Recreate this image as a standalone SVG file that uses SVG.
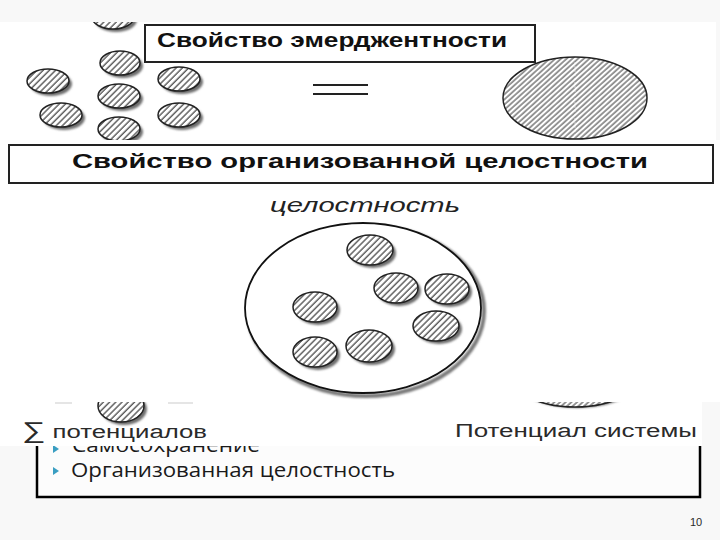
<svg xmlns="http://www.w3.org/2000/svg" width="720" height="540" viewBox="0 0 720 540">
<style>
.sc{stroke:#222;stroke-width:1.5;fill:url(#hatch)}
.shd{fill:#6e6e6e;filter:url(#blur)}
.bx{fill:#fff;stroke:#222;stroke-width:2}
.tb{font-family:"Liberation Sans",Arial,sans-serif;font-weight:bold;fill:#111}
.lb{font-family:"Liberation Sans",Arial,sans-serif;fill:#2a2a2a}
.li{font-family:"Open Sans","Noto Sans",sans-serif;fill:#1a1a1a}
.bul{fill:#3a9ec2}
</style>
<defs>
<pattern id="hatch" patternUnits="userSpaceOnUse" width="4.4" height="4.4" patternTransform="rotate(45)">
<rect width="4.4" height="4.4" fill="#fff"/>
<line x1="1" y1="0" x2="1" y2="4.4" stroke="#3a3a3a" stroke-width="1.2"/>
</pattern>
<pattern id="hatchBig" patternUnits="userSpaceOnUse" width="3.8" height="3.8" patternTransform="rotate(48)">
<rect width="3.8" height="3.8" fill="#fff"/>
<line x1="1" y1="0" x2="1" y2="3.8" stroke="#444" stroke-width="1.1"/>
</pattern>
<filter id="blur" x="-20%" y="-20%" width="140%" height="140%"><feGaussianBlur stdDeviation="1.3"/></filter>
<clipPath id="clipTop"><rect x="0" y="22" width="716" height="123"/></clipPath>
<clipPath id="clipBot"><rect x="0" y="380" width="702" height="66"/></clipPath>
</defs>

<!-- slide background -->
<rect x="0" y="0" width="720" height="540" fill="#f8f8f8"/>

<!-- bulleted list box -->
<g id="list">
<path d="M37,400 V497 H700 V400" fill="#fcfcfc" stroke="#000" stroke-width="2.5"/>
<polygon class="bul" points="53,445 59,449 53,453"/>
<text class="li" x="72" y="452" font-size="20" textLength="188" lengthAdjust="spacingAndGlyphs">Самосохранение</text>
<polygon class="bul" points="53,467 59,471 53,475"/>
<text class="li" x="71" y="477" font-size="20" textLength="324" lengthAdjust="spacingAndGlyphs">Организованная целостность</text>
</g>
<text id="pagenum" class="lb" x="690" y="526" font-size="11">10</text>

<!-- bottom image fragment -->
<g id="bottom" clip-path="url(#clipBot)">
<rect x="0" y="380" width="702" height="66" fill="#fff"/>
<line x1="55" y1="403" x2="72" y2="403" stroke="#ddd" stroke-width="1.5"/>
<line x1="168" y1="403" x2="193" y2="403" stroke="#ddd" stroke-width="1.5"/>
<g id="sumCircle">
<ellipse class="shd" cx="124" cy="409" rx="23" ry="16"/>
<ellipse class="sc" cx="121" cy="406" rx="23" ry="16"/>
</g>
<g id="sysEllipseBottom">
<ellipse class="shd" cx="577" cy="368" rx="72" ry="40"/>
<ellipse cx="575" cy="366" rx="72" ry="41" fill="url(#hatchBig)" stroke="#222" stroke-width="1.5"/>
</g>
<text id="sumLabel" class="lb" x="22" y="438" font-size="18" textLength="185" lengthAdjust="spacingAndGlyphs"><tspan font-size="23">∑</tspan> потенциалов</text>
<text id="sysLabel" class="lb" x="455" y="437" font-size="18" textLength="242" lengthAdjust="spacingAndGlyphs">Потенциал системы</text>
</g>

<!-- top image fragment: emergence -->
<g id="top" clip-path="url(#clipTop)">
<rect x="0" y="22" width="716" height="123" fill="#fff"/>
<g id="c0"><ellipse class="shd" cx="116" cy="20" rx="21" ry="12"/><ellipse class="sc" cx="113" cy="17" rx="21" ry="12"/></g>
<g id="c1"><ellipse class="shd" cx="123" cy="66" rx="20" ry="12"/><ellipse class="sc" cx="120" cy="63" rx="20" ry="12"/></g>
<g id="c2"><ellipse class="shd" cx="51" cy="84" rx="21" ry="12"/><ellipse class="sc" cx="48" cy="81" rx="21" ry="12"/></g>
<g id="c3"><ellipse class="shd" cx="182" cy="82" rx="21" ry="12"/><ellipse class="sc" cx="179" cy="79" rx="21" ry="12"/></g>
<g id="c4"><ellipse class="shd" cx="122" cy="99" rx="21" ry="12"/><ellipse class="sc" cx="119" cy="96" rx="21" ry="12"/></g>
<g id="c5"><ellipse class="shd" cx="64" cy="118" rx="21" ry="12"/><ellipse class="sc" cx="61" cy="115" rx="21" ry="12"/></g>
<g id="c6"><ellipse class="shd" cx="182" cy="118" rx="21" ry="12"/><ellipse class="sc" cx="179" cy="115" rx="21" ry="12"/></g>
<g id="c7"><ellipse class="shd" cx="122" cy="132" rx="21" ry="12"/><ellipse class="sc" cx="119" cy="129" rx="21" ry="12"/></g>
<g id="emergBox">
<rect class="bx" x="145" y="25" width="390" height="37"/>
<text class="tb" x="157" y="47" font-size="20" textLength="350" lengthAdjust="spacingAndGlyphs">Свойство эмерджентности</text>
</g>
<g id="equals">
<line x1="313" y1="85" x2="368" y2="85" stroke="#222" stroke-width="1.8"/>
<line x1="313" y1="94" x2="368" y2="94" stroke="#222" stroke-width="1.8"/>
</g>
<g id="bigEllipse">
<ellipse cx="575" cy="98" rx="72" ry="41" fill="url(#hatchBig)" stroke="#222" stroke-width="1.5"/>
<line x1="575" y1="58" x2="575" y2="138" stroke="#fff" stroke-width="0.8" stroke-dasharray="2 2" opacity="0.7"/>
</g>
</g>

<!-- middle image fragment: organized integrity -->
<g id="middle">
<rect x="0" y="140" width="720" height="262" fill="#fff"/>
<g id="orgBox">
<rect class="bx" x="9" y="145" width="704" height="38"/>
<text class="tb" x="72" y="168" font-size="21" textLength="576" lengthAdjust="spacingAndGlyphs">Свойство организованной целостности</text>
</g>
<text id="wholeLabel" x="270" y="212" font-size="21" font-style="italic" textLength="190" lengthAdjust="spacingAndGlyphs" font-family="'Liberation Sans',Arial,sans-serif" fill="#222">целостность</text>
<g id="wholeCircle">
<ellipse cx="366" cy="311" rx="118" ry="85" fill="none" stroke="#777" stroke-width="4" filter="url(#blur)"/>
<ellipse cx="363" cy="308" rx="118" ry="85" fill="#fff" stroke="#111" stroke-width="1.8"/>
</g>
<g id="m1"><ellipse class="shd" cx="373" cy="253" rx="23" ry="15"/><ellipse class="sc" cx="370" cy="250" rx="23" ry="15"/></g>
<g id="m2"><ellipse class="shd" cx="399" cy="291" rx="22" ry="15"/><ellipse class="sc" cx="396" cy="288" rx="22" ry="15"/></g>
<g id="m3"><ellipse class="shd" cx="450" cy="292" rx="22" ry="15"/><ellipse class="sc" cx="447" cy="289" rx="22" ry="15"/></g>
<g id="m4"><ellipse class="shd" cx="318" cy="310" rx="22" ry="15"/><ellipse class="sc" cx="315" cy="307" rx="22" ry="15"/></g>
<g id="m5"><ellipse class="shd" cx="439" cy="329" rx="23" ry="15"/><ellipse class="sc" cx="436" cy="326" rx="23" ry="15"/></g>
<g id="m6"><ellipse class="shd" cx="318" cy="355" rx="22" ry="15"/><ellipse class="sc" cx="315" cy="352" rx="22" ry="15"/></g>
<g id="m7"><ellipse class="shd" cx="372" cy="349" rx="23" ry="16"/><ellipse class="sc" cx="369" cy="346" rx="23" ry="16"/></g>
</g>
<g id="connectors"/>
</svg>
